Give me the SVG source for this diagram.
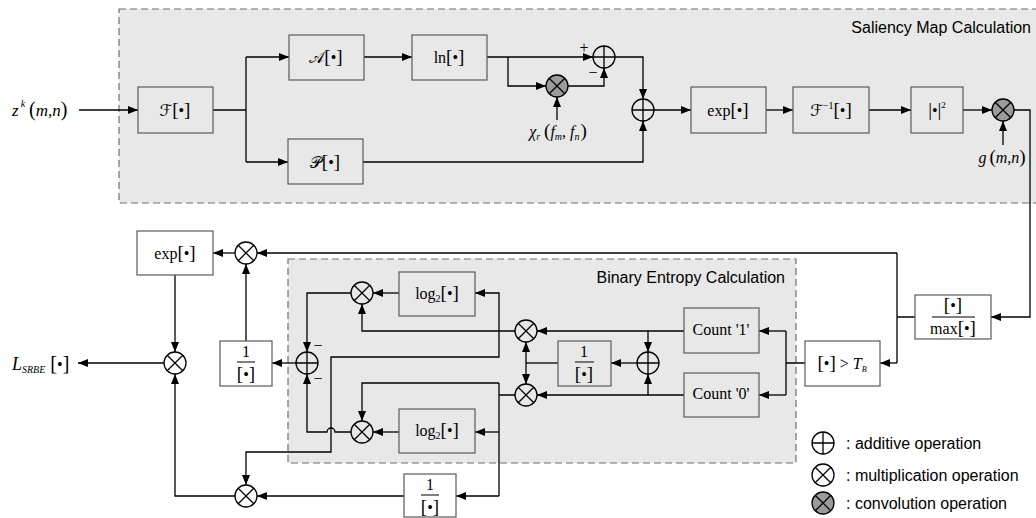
<svg xmlns="http://www.w3.org/2000/svg" width="1036" height="518" viewBox="0 0 1036 518">
<defs>
<marker id="ah" markerUnits="userSpaceOnUse" markerWidth="10" markerHeight="8" refX="10" refY="4" orient="auto"><path d="M0,0 L10,4 L0,8 z" fill="#000"/></marker>
<style>
.region{fill:#e8e8e8;stroke:#707070;stroke-width:1.2;stroke-dasharray:7 4}
.box{fill:#fff;stroke:#5a5a5a;stroke-width:1.2}
.box.in{fill:#e8e8e8}
.c{fill:none;stroke:#000;stroke-width:1.3}
.cv{fill:#9b9b9b;stroke:#000;stroke-width:1.3}
.w{fill:none;stroke:#000;stroke-width:1.3}
.a{marker-end:url(#ah)}
.m{font-family:'Liberation Serif','DejaVu Serif','DejaVu Sans',serif;font-size:16px;fill:#000;text-anchor:middle}
.i{font-style:italic}
.b{font-size:19px}
.s{font-family:'Liberation Sans','DejaVu Sans',sans-serif;font-size:16px;fill:#000}
.fl{stroke:#000;stroke-width:1}
</style>
<g id="opAdd"><circle r="11" class="c"/><path d="M-11,0H11M0,-11V11" class="c"/></g>
<g id="opMul"><circle r="11" class="c"/><path d="M-7.8,-7.8L7.8,7.8M-7.8,7.8L7.8,-7.8" class="c"/></g>
<g id="opConv"><circle r="11" class="cv"/><path d="M-7.8,-7.8L7.8,7.8M-7.8,7.8L7.8,-7.8" class="c"/></g>
</defs>
<rect width="1036" height="518" fill="#fff"/>

<g id="saliency-region">
<rect class="region" x="119" y="9" width="930" height="194"/>
<text class="s" x="1031" y="33" text-anchor="end">Saliency Map Calculation</text>
</g>
<g id="entropy-region">
<rect class="region" x="288" y="259" width="508" height="204"/>
<text class="s" x="785" y="283" text-anchor="end">Binary Entropy Calculation</text>
</g>

<g id="connectors">
<path class="w a" d="M79,110 H138"/>
<path class="w" d="M213,110 H246 M246,57 V162"/>
<path class="w a" d="M246,57 H289"/>
<path class="w a" d="M246,162 H288"/>
<path class="w a" d="M364,57 H412"/>
<path class="w a" d="M487,57 H593"/>
<path class="w a" d="M508,57 V86 H546"/>
<path class="w a" d="M557,120 V97"/>
<path class="w a" d="M568,86 H604 V68"/>
<path class="w a" d="M615,57 H643 V99"/>
<path class="w a" d="M363,162 H643 V121"/>
<path class="w a" d="M654,110 H691"/>
<path class="w a" d="M766,110 H793"/>
<path class="w a" d="M869,110 H911"/>
<path class="w a" d="M963,110 H992"/>
<path class="w a" d="M1003,145 V121"/>
<path class="w a" d="M1014,110 H1030 V317 H991"/>
<path class="w" d="M915,317 H897 M897,253 V363"/>
<path class="w a" d="M897,253 H257"/>
<path class="w a" d="M897,363 H880"/>
<path class="w a" d="M235,253 H213"/>
<path class="w a" d="M246,341 V264"/>
<path class="w a" d="M175,275 V352"/>
<path class="w a" d="M164,363 H78"/>
<path class="w" d="M805,363 H786 M786,331 V395"/>
<path class="w a" d="M786,331 H759"/>
<path class="w a" d="M786,395 H759"/>
<path class="w a" d="M684,331 H537"/>
<path class="w a" d="M684,395 H537"/>
<path class="w a" d="M648,331 V352"/>
<path class="w a" d="M648,395 V374"/>
<path class="w a" d="M637,363 H611"/>
<path class="w" d="M558,363 H526"/>
<path class="w a" d="M526,363 V342"/>
<path class="w a" d="M526,363 V384"/>
<path class="w a" d="M515,331 H362 V304"/>
<path class="w a" d="M499,331 V293 H475"/>
<path class="w a" d="M499,331 V357 H331 V452 H246 V485"/>
<path class="w a" d="M399,293 H373"/>
<path class="w a" d="M351,293 H307 V352"/>
<path class="w a" d="M296,363 H272"/>
<path class="w" d="M515,395 H499 M499,383 V496"/>
<path class="w a" d="M499,383 H362 V421"/>
<path class="w a" d="M499,432 H475"/>
<path class="w a" d="M499,496 H456"/>
<path class="w a" d="M399,432 H373"/>
<path class="w a" d="M351,432 H335 A4,4 0 0 0 327,432 H307 V374"/>
<path class="w a" d="M404,496 H257"/>
<path class="w a" d="M235,496 H175 V374"/>
</g>

<g id="input-z">
<text class="m" x="12" y="116" style="text-anchor:start"><tspan class="i" font-size="17">z</tspan><tspan class="i" font-size="10" dy="-9" dx="2">k</tspan><tspan font-size="20" dy="9" dx="4">(</tspan><tspan class="i" font-size="17">m</tspan><tspan font-size="17">,</tspan><tspan class="i" font-size="17">n</tspan><tspan font-size="20">)</tspan></text>
</g>
<g id="fourier"><rect class="box in" x="138" y="87" width="75" height="46"/><text class="m" x="175" y="116">ℱ<tspan class="b">[</tspan>•<tspan class="b">]</tspan></text></g>
<g id="amplitude"><rect class="box in" x="289" y="35" width="75" height="45"/><text class="m" x="326" y="63">𝒜<tspan class="b">[</tspan>•<tspan class="b">]</tspan></text></g>
<g id="phase"><rect class="box in" x="288" y="139" width="75" height="45"/><text class="m" x="325" y="168">𝒫<tspan class="b">[</tspan>•<tspan class="b">]</tspan></text></g>
<g id="log"><rect class="box in" x="412" y="35" width="75" height="45"/><text class="m" x="449" y="63">ln<tspan class="b">[</tspan>•<tspan class="b">]</tspan></text></g>
<g id="sum-residual"><use href="#opAdd" x="604" y="57"/><text class="m" x="584" y="53" font-size="14">+</text><text class="m" x="593" y="78" font-size="14">−</text></g>
<g id="conv-chi"><use href="#opConv" x="557" y="86"/></g>
<g id="chi-label"><text class="m" x="558" y="137"><tspan class="i">χ</tspan><tspan class="i" font-size="10" dy="3">r</tspan><tspan font-size="19" dy="-3" dx="4">(</tspan><tspan class="i">f</tspan><tspan class="i" font-size="10" dy="3">m</tspan><tspan dy="-3">, </tspan><tspan class="i">f</tspan><tspan class="i" font-size="10" dy="3">n</tspan><tspan font-size="19" dy="-3" dx="1">)</tspan></text></g>
<g id="sum-phase"><use href="#opAdd" x="643" y="110"/></g>
<g id="exp-top"><rect class="box in" x="691" y="87" width="75" height="46"/><text class="m" x="728" y="116">exp<tspan class="b">[</tspan>•<tspan class="b">]</tspan></text></g>
<g id="inv-fourier"><rect class="box in" x="793" y="87" width="76" height="46"/><text class="m" x="831" y="116">ℱ<tspan font-size="10" dy="-7">−1</tspan><tspan class="b" dy="7">[</tspan>•<tspan class="b">]</tspan></text></g>
<g id="abs-square"><rect class="box in" x="911" y="87" width="52" height="46"/><text class="m" x="937" y="116"><tspan class="b">|</tspan>•<tspan class="b">|</tspan><tspan font-size="9" dy="-8">2</tspan></text></g>
<g id="conv-g"><use href="#opConv" x="1003" y="110"/></g>
<g id="g-label"><text class="m" x="1002" y="163"><tspan class="i">g</tspan><tspan font-size="19" dx="3">(</tspan><tspan class="i">m</tspan>,<tspan class="i">n</tspan><tspan font-size="19">)</tspan></text></g>

<g id="normalize"><rect class="box" x="915" y="295" width="76" height="44"/><text class="m" x="953" y="311" font-size="15"><tspan class="b">[</tspan>•<tspan class="b">]</tspan></text><line class="fl" x1="932" y1="317" x2="975" y2="317"/><text class="m" x="953" y="334" font-size="15">max<tspan class="b">[</tspan>•<tspan class="b">]</tspan></text></g>
<g id="threshold"><rect class="box" x="805" y="341" width="75" height="45"/><text class="m" x="842" y="369" font-size="15"><tspan class="b">[</tspan>•<tspan class="b">]</tspan> &gt; <tspan class="i">T</tspan><tspan class="i" font-size="8" dy="3">B</tspan></text></g>
<g id="count1"><rect class="box in" x="684" y="308" width="75" height="45"/><text class="m" x="721" y="335" font-size="13">Count '1'</text></g>
<g id="count0"><rect class="box in" x="684" y="373" width="75" height="44"/><text class="m" x="721" y="399" font-size="13">Count '0'</text></g>
<g id="sum-counts"><use href="#opAdd" x="648" y="363"/></g>
<g id="recip-inner"><rect class="box in" x="558" y="341" width="53" height="45"/><text class="m" x="584" y="357" font-size="15">1</text><line class="fl" x1="575" y1="362" x2="594" y2="362"/><text class="m" x="584" y="380" font-size="15"><tspan class="b">[</tspan>•<tspan class="b">]</tspan></text></g>
<g id="mul-p1"><use href="#opMul" x="526" y="331"/></g>
<g id="mul-p0"><use href="#opMul" x="526" y="395"/></g>
<g id="log2-upper"><rect class="box in" x="399" y="272" width="76" height="44"/><text class="m" x="437" y="299">log<tspan font-size="10" dy="3">2</tspan><tspan class="b" dy="-3">[</tspan>•<tspan class="b">]</tspan></text></g>
<g id="log2-lower"><rect class="box in" x="399" y="409" width="76" height="44"/><text class="m" x="437" y="436">log<tspan font-size="10" dy="3">2</tspan><tspan class="b" dy="-3">[</tspan>•<tspan class="b">]</tspan></text></g>
<g id="mul-upper-left"><use href="#opMul" x="362" y="293"/></g>
<g id="mul-lower-left"><use href="#opMul" x="362" y="432"/></g>
<g id="sum-entropy"><use href="#opAdd" x="307" y="363"/><text class="m" x="318" y="351" font-size="14">−</text><text class="m" x="318" y="384" font-size="14">−</text></g>

<g id="recip-left"><rect class="box" x="220" y="341" width="52" height="45"/><text class="m" x="246" y="357" font-size="15">1</text><line class="fl" x1="237" y1="362" x2="255" y2="362"/><text class="m" x="246" y="380" font-size="15"><tspan class="b">[</tspan>•<tspan class="b">]</tspan></text></g>
<g id="mul-exp"><use href="#opMul" x="246" y="253"/></g>
<g id="exp-bottom"><rect class="box" x="137" y="231" width="76" height="44"/><text class="m" x="175" y="259">exp<tspan class="b">[</tspan>•<tspan class="b">]</tspan></text></g>
<g id="mul-final"><use href="#opMul" x="175" y="363"/></g>
<g id="output-L"><text class="m" x="12" y="370" style="text-anchor:start"><tspan class="i" font-size="18">L</tspan><tspan class="i" font-size="10" dy="3">SRBE</tspan><tspan font-size="20" dy="-3" dx="5">[</tspan>•<tspan font-size="20">]</tspan></text></g>
<g id="recip-bottom"><rect class="box" x="404" y="474" width="52" height="43"/><text class="m" x="430" y="490" font-size="15">1</text><line class="fl" x1="421" y1="495" x2="439" y2="495"/><text class="m" x="430" y="513" font-size="15"><tspan class="b">[</tspan>•<tspan class="b">]</tspan></text></g>
<g id="mul-bottom"><use href="#opMul" x="246" y="496"/></g>

<g id="legend">
<use href="#opAdd" x="823" y="443"/>
<text class="s" x="846" y="449" font-size="16.5">: additive operation</text>
<use href="#opMul" x="823" y="475"/>
<text class="s" x="846" y="481" font-size="16.5">: multiplication operation</text>
<use href="#opConv" x="823" y="503"/>
<text class="s" x="846" y="509" font-size="16.5">: convolution operation</text>
</g>
</svg>
